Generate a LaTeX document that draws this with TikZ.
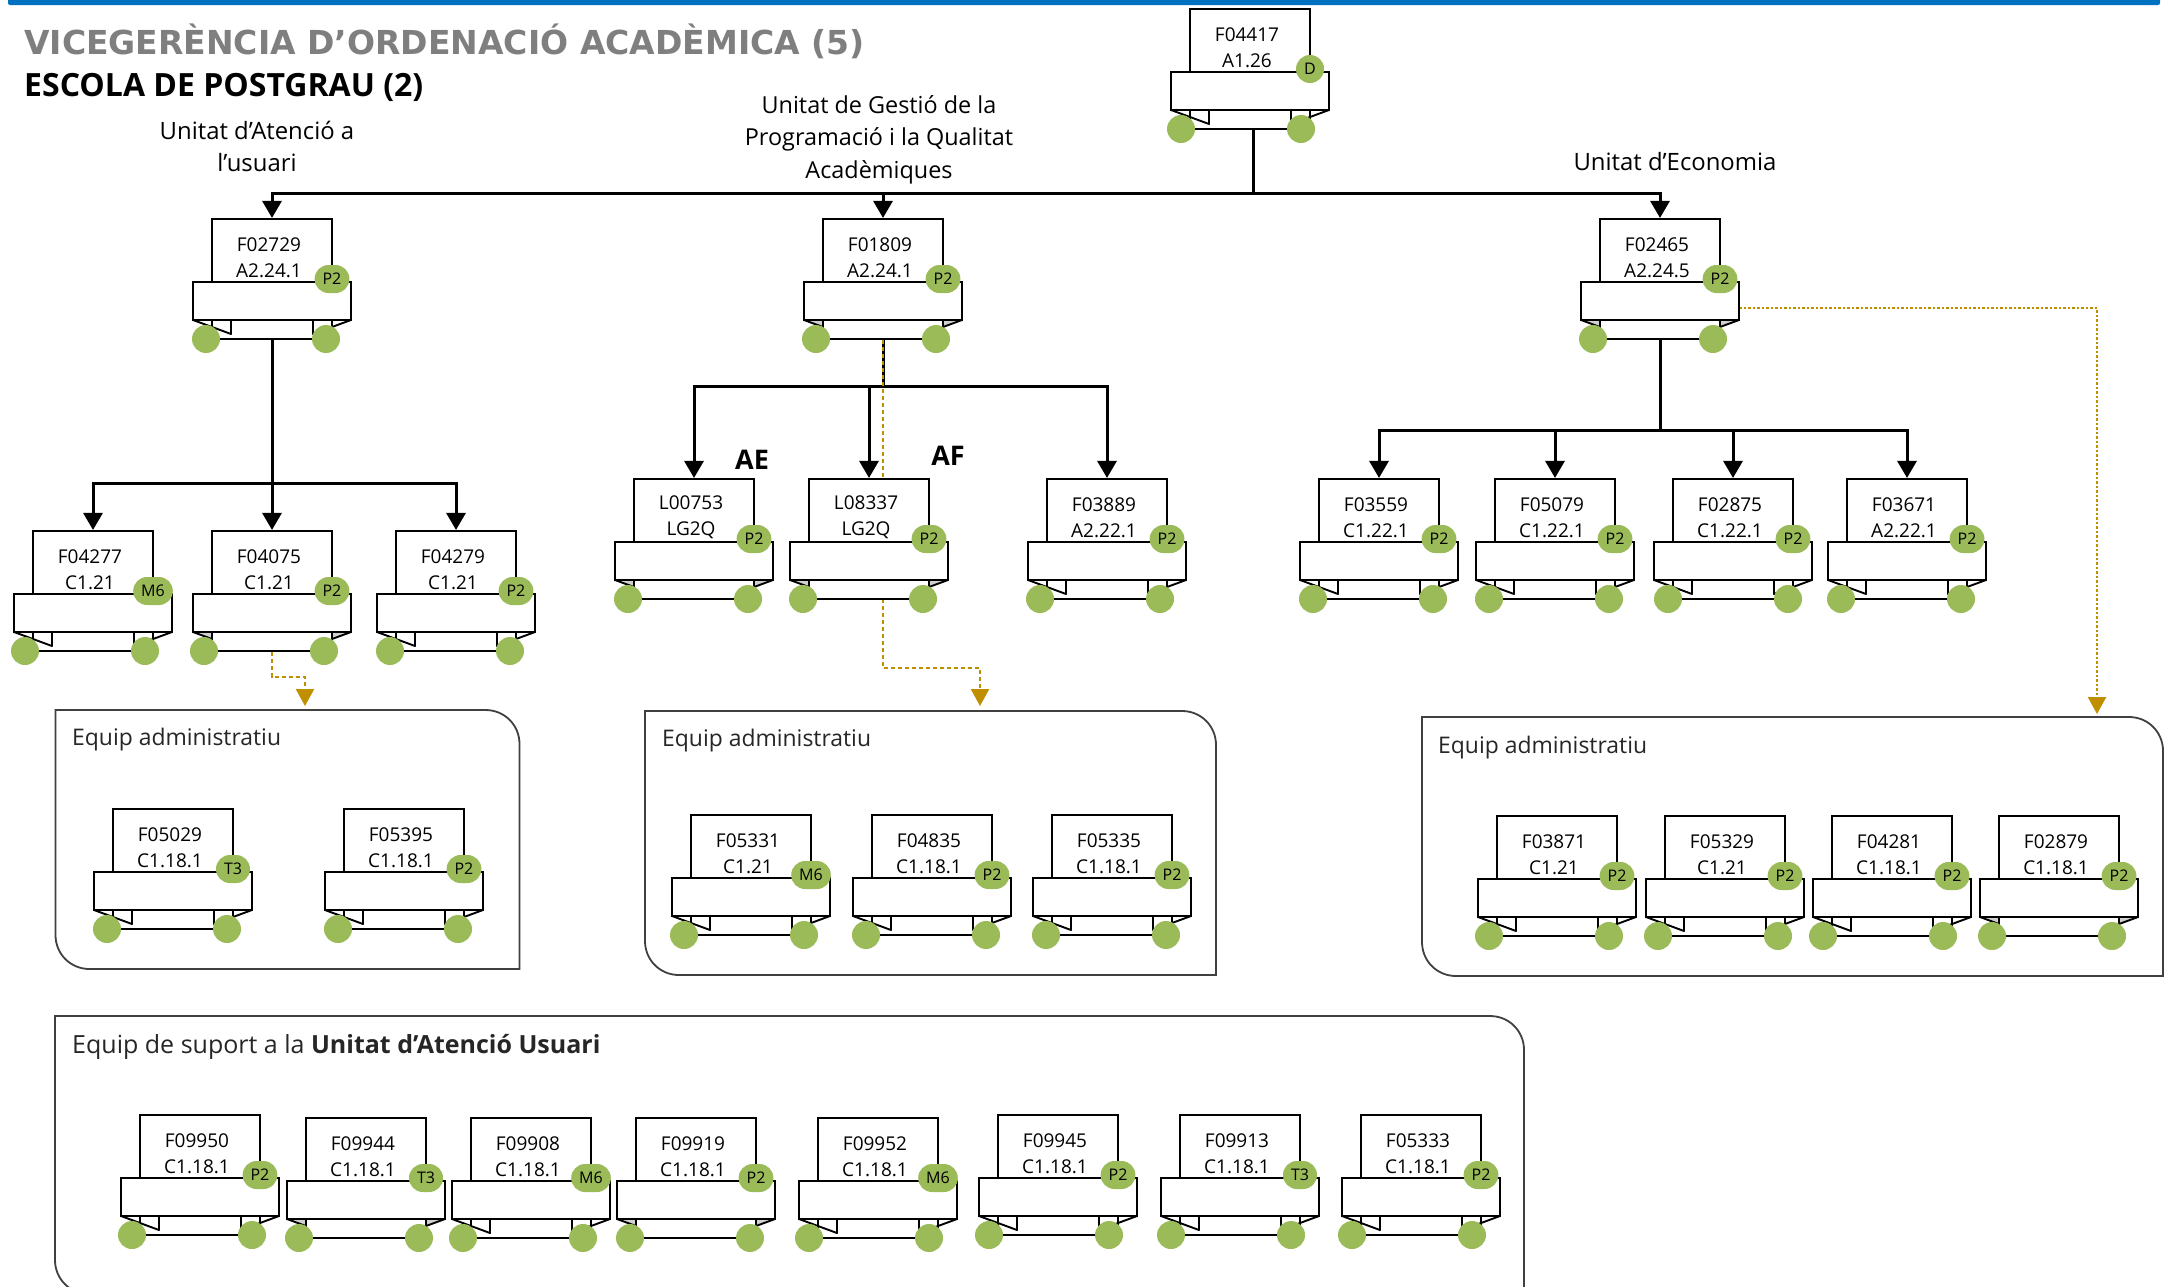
\documentclass[tikz,border=0pt]{standalone}
\usepackage{fontspec}
\setmainfont{Open Sans}
\newfontfamily\titlefont{DejaVu Sans}
\usetikzlibrary{arrows.meta,calc}
\pgfdeclarelayer{bglayer}
\pgfdeclarelayer{connlayer}
\pgfsetlayers{bglayer,connlayer,main}
\definecolor{circ}{HTML}{9BBB59}
\definecolor{gold}{HTML}{BF8F00}
\definecolor{foldgrey}{HTML}{D0D0D0}
\definecolor{panelline}{HTML}{404040}
\definecolor{bluebar}{HTML}{0070C0}
\definecolor{titlegrey}{HTML}{7F7F7F}
\tikzset{
  x=1pt,y=-1pt,
  rearbox/.style={draw=black,fill=white,line width=2.1pt,minimum width=120pt,minimum height=120pt,inner sep=0pt},
  bandbox/.style={draw=black,fill=white,line width=2.3pt,minimum width=158pt,minimum height=38pt,inner sep=0pt},
  foldline/.style={draw=black,line width=1.9pt,line join=round},
  dotmark/.style={circle,fill=circ,minimum size=28pt,inner sep=0pt},
  badge/.style={fill=circ,rounded corners=13.9pt,minimum width=28pt,minimum height=28pt,inner xsep=8pt,inner ysep=0pt,font=\fontsize{16}{16}\selectfont},
  cardtext/.style={align=center,inner sep=0pt,font=\fontsize{19}{26}\selectfont,text=black},
  arr/.style={draw=black,line width=3pt,-{Triangle[length=17pt,width=19pt]}},
  conn/.style={draw=black,line width=3pt},
  goldarr/.style={draw=gold,line width=2.3pt,dash pattern=on 4pt off 3pt,-{Triangle[length=17pt,width=18pt]}},
  goldfine/.style={draw=gold,line width=2.3pt,dash pattern=on 2.5pt off 2pt,-{Triangle[length=17pt,width=18pt]}},
  panel/.style={draw=panelline,line width=1.8pt},
  paneltext/.style={anchor=west,inner sep=0pt,font=\fontsize{22.9}{26}\selectfont,text=black!85},
  unitlabel/.style={align=center,inner sep=0pt,font=\fontsize{23.9}{32.5}\selectfont,text=black},
  sidelabel/.style={inner sep=0pt,font=\bfseries\fontsize{27}{30}\selectfont},
}
% #1 name, #2 cx, #3 top, #4 line1, #5 line2, #6 badge, #7 dot offset, #8 wide/grey
\newcommand{\foldwide}[2]{%
  \path[foldline,fill=white] ({#1-79},{#2+101}) -- ({#1-41},{#2+115}) -- ({#1-41},{#2+101}) -- cycle;
  \path[foldline,fill=white] ({#1+79},{#2+101}) -- ({#1+41},{#2+115}) -- ({#1+41},{#2+101}) -- cycle;
  \draw[foldline] ({#1-60},{#2+101}) -- ({#1-60},{#2+108});
  \draw[foldline] ({#1+60},{#2+101}) -- ({#1+60},{#2+108});
}
\newcommand{\foldgrey}[2]{%
  \path[foldline,fill=foldgrey] ({#1-79},{#2+101}) -- ({#1-60},{#2+108}) -- ({#1-60},{#2+101}) -- cycle;
  \path[foldline,fill=foldgrey] ({#1+79},{#2+101}) -- ({#1+60},{#2+108}) -- ({#1+60},{#2+101}) -- cycle;
}
\newcommand{\card}[8]{%
  \node[rearbox] (#1) at (#2,{#3+60}) {};
  \csname fold#8\endcsname{#2}{#3}
  \node[bandbox] (#1b) at (#2,{#3+82}) {};
  \node[cardtext] (#1t) at ({#2-3},{#3+38.5}) {#4\\#5};
  \node[dotmark] (#1l) at ({#2+#7-60},{#3+120}) {};
  \node[dotmark] (#1r) at ({#2+#7+60},{#3+120}) {};
  \node[badge] (#1p) at ({#2+60},{#3+60}) {#6};
}
% #1 left, #2 top, #3 right, #4 bottom
\newcommand{\panelbox}[4]{%
  \draw[panel] (#1,#2) -- ({#3-34},#2) .. controls ({#3-15},#2) and (#3,{#2+15}) .. (#3,{#2+34})
    -- (#3,#4) -- ({#1+34},#4) .. controls ({#1+15},#4) and (#1,{#4-15}) .. (#1,{#4-34}) -- cycle;
}
\begin{document}
\begin{tikzpicture}
\path[use as bounding box,clip] (0,0) rectangle (2170,1286);
\begin{pgfonlayer}{bglayer}
\fill[white] (0,0) rectangle (2170,1286);
\fill[bluebar,rounded corners=2pt] (8,-4) rectangle (2160,5);
\panelbox{55.5}{710}{519.5}{969}
\panelbox{645}{711}{1216}{975}
\panelbox{1422}{717}{2163}{976}
\panelbox{55}{1016}{1524}{1294}
\end{pgfonlayer}

% titles and labels
\node[anchor=west,inner sep=0pt,text=titlegrey,font=\titlefont\bfseries\fontsize{33}{36}\selectfont] (title) at (24,41) {VICEGERÈNCIA D’ORDENACIÓ ACADÈMICA (5)};
\node[anchor=west,inner sep=0pt,font=\bfseries\fontsize{32}{36}\selectfont] (subtitle) at (24,87) {ESCOLA DE POSTGRAU (2)};
\node[unitlabel] (u1) at (257,146.5) {Unitat d’Atenció a\\l’usuari};
\node[unitlabel,font=\fontsize{23.4}{32.5}\selectfont] (u2) at (879,139.5) {Unitat de Gestió de la\\Programació i la Qualitat\\Acadèmiques};
\node[unitlabel] (u3) at (1675,162) {Unitat d’Economia};
\node[sidelabel] (ae) at (752,460) {AE};
\node[sidelabel] (af) at (948,456) {AF};

\node[paneltext] (p1) at (72,740) {Equip administratiu};
\node[paneltext] (p2) at (662,741) {Equip administratiu};
\node[paneltext] (p3) at (1438,748) {Equip administratiu};
\node[paneltext,font=\fontsize{25}{28}\selectfont] (p4) at (72,1047) {Equip de suport a la \textbf{Unitat d’Atenció Usuari}};

\card{c04417}{1250}{9}{F04417}{A1.26}{D}{-9}{wide}
\card{c02729}{272}{219}{F02729}{A2.24.1}{P2}{-6}{wide}
\card{c01809}{883}{219}{F01809}{A2.24.1}{P2}{-7}{grey}
\card{c02465}{1660}{219}{F02465}{A2.24.5}{P2}{-7}{grey}
\card{c04277}{93}{531}{F04277}{C1.21}{M6}{-8}{wide}
\card{c04075}{272}{531}{F04075}{C1.21}{P2}{-8}{grey}
\card{c04279}{456}{531}{F04279}{C1.21}{P2}{-6}{wide}
\card{cL00753}{694}{479}{L00753}{LG2Q}{P2}{-6}{grey}
\card{cL08337}{869}{479}{L08337}{LG2Q}{P2}{-6}{grey}
\card{c03889}{1107}{479}{F03889}{A2.22.1}{P2}{-7}{wide}
\card{c03559}{1379}{479}{F03559}{C1.22.1}{P2}{-6}{wide}
\card{c05079}{1555}{479}{F05079}{C1.22.1}{P2}{-6}{wide}
\card{c02875}{1733}{479}{F02875}{C1.22.1}{P2}{-5}{wide}
\card{c03671}{1907}{479}{F03671}{A2.22.1}{P2}{-6}{wide}
\card{c05029}{173}{809}{F05029}{C1.18.1}{T3}{-6}{wide}
\card{c05395}{404}{809}{F05395}{C1.18.1}{P2}{-6}{wide}
\card{c05331}{751}{815}{F05331}{C1.21}{M6}{-7}{wide}
\card{c04835}{932}{815}{F04835}{C1.18.1}{P2}{-6}{wide}
\card{c05335}{1112}{815}{F05335}{C1.18.1}{P2}{-6}{wide}
\card{c03871}{1557}{816}{F03871}{C1.21}{P2}{-8}{wide}
\card{c05329}{1725}{816}{F05329}{C1.21}{P2}{-7}{wide}
\card{c04281}{1892}{816}{F04281}{C1.18.1}{P2}{-9}{wide}
\card{c02879}{2059}{816}{F02879}{C1.18.1}{P2}{-7}{grey}
\card{c09950}{200}{1115}{F09950}{C1.18.1}{P2}{-8}{wide}
\card{c09944}{366}{1118}{F09944}{C1.18.1}{T3}{-7}{grey}
\card{c09908}{531}{1118}{F09908}{C1.18.1}{M6}{-8}{wide}
\card{c09919}{696}{1118}{F09919}{C1.18.1}{P2}{-6}{grey}
\card{c09952}{878}{1118}{F09952}{C1.18.1}{M6}{-9}{wide}
\card{c09945}{1058}{1115}{F09945}{C1.18.1}{P2}{-9}{wide}
\card{c09913}{1240}{1115}{F09913}{C1.18.1}{T3}{-9}{wide}
\card{c05333}{1421}{1115}{F05333}{C1.18.1}{P2}{-9}{wide}

% connectors, behind the cards
\coordinate (hub) at (1253,193);
\coordinate (h1) at (272,483);
\coordinate (h2) at (883,386);
\coordinate (h3) at (1660,430);
\coordinate (g1a) at (272,677);
\coordinate (g1b) at (305,706);
\coordinate (g2a) at (883,668);
\coordinate (g2b) at (980,706);
\coordinate (g3s) at (1739,308);
\coordinate (g3b) at (2097,714);

\begin{pgfonlayer}{connlayer}
\draw[conn] (hub |- c04417.south) -- (hub);
\draw[arr] (hub) -| (c02729.north);
\draw[arr] (hub) -| (c01809.north);
\draw[arr] (hub) -| (c02465.north);

\draw[arr] (c02729.south) -- (c04075.north);
\draw[arr] (h1) -| (c04277.north);
\draw[arr] (h1) -| (c04279.north);

\draw[conn] (c01809.south) -- (h2);
\draw[arr] (h2) -| (cL00753.north);
\draw[arr] (h2) -| (cL08337.north);
\draw[arr] (h2) -| (c03889.north);

\draw[conn] (c02465.south) -- (h3);
\draw[arr] (h3) -| (c03559.north);
\draw[arr] (h3) -| (c05079.north);
\draw[arr] (h3) -| (c02875.north);
\draw[arr] (h3) -| (c03671.north);

\draw[goldarr] (c04075.south) -- (g1a) -| (g1b);
\draw[goldfine] (g3s) -| (g3b);
\draw[goldarr] (c01809.south) -- (g2a) -| (g2b);
\end{pgfonlayer}
\end{tikzpicture}
\end{document}
